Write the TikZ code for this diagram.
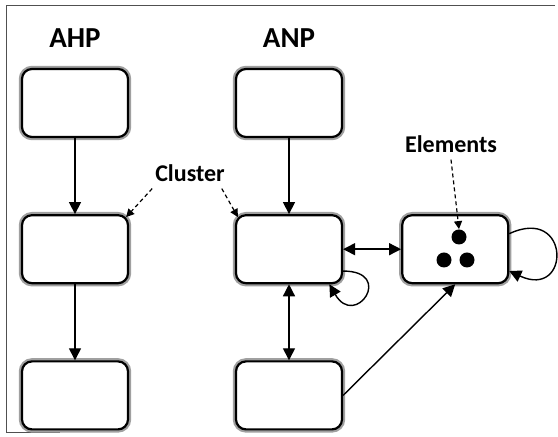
\documentclass[tikz,border=0pt]{standalone}
\usepackage{fontspec}
\setmainfont{Carlito}
\usetikzlibrary{arrows.meta,positioning}
\definecolor{BoxHalo}{HTML}{A0A0A0}
\definecolor{FrameLine}{HTML}{505050}
\tikzset{>={Triangle[length=6pt,width=6pt]},
 cluster/.style={draw=black,fill=white,line width=1.1pt,rounded corners=5pt,
 minimum width=53pt,minimum height=34pt,preaction={draw=BoxHalo,line width=3.2pt}},
 title/.style={font=\bfseries\fontsize{14.5}{16}\selectfont},
 tag/.style={font=\bfseries\fontsize{12}{14}\selectfont},
 elem/.style={circle,fill=black,inner sep=0pt,minimum size=7.5pt},
 link/.style={->,line width=0.7pt},
 pointer/.style={dash pattern=on 2pt off 1.5pt,line width=0.6pt,
 -{Triangle[length=4pt,width=4pt]}}}

\begin{document}
\begin{tikzpicture}[x=0.5pt,y=-0.5pt,node distance=38pt]
\useasboundingbox (0,0) rectangle (558,437);
\draw[FrameLine,line width=0.5pt] (555,6) -- (6,6) -- (6,433) -- (60,433);
% column titles
\node[title] (ahp) at (75,38) {AHP};
\node[title] (anp) at (289,38) {ANP};
% AHP: a plain chain of clusters
\node[cluster] (a1) at (75,103) {};
\node[cluster,below=of a1] (a2) {};
\node[cluster,below=of a2] (a3) {};
% ANP: clusters with feedback
\node[cluster] (n1) at (289,103) {};
\node[cluster,below=of n1] (n2) {};
\node[cluster,below=of n2] (n3) {};
\node[cluster,right=29pt of n2] (ne) {};
\node[elem] (e1) at (459,237) {};
\node[elem] (e2) at (444,260) {};
\node[elem] (e3) at (467,260) {};
\node[tag] (cl) at (190,173) {Cluster};
\node[tag] (el) at (451,144) {Elements};
\draw[link] (a1) -- (a2);
\draw[link] (a2) -- (a3);
\draw[link] (n1) -- (n2);
\draw[link,<->] (n2) -- (ne);
\draw[link,<->] (n2) -- (n3);
\draw[link] (n3.east) -- (ne.south);
\draw[link] (n2.-22) to[out=0,in=-60,distance=26pt] (n2.-41);
\draw[link] (ne.16) to[out=25,in=-25,distance=34pt] (ne.-22);
\draw[pointer] ([xshift=2pt]cl.south west) -- ([shift={(-1.5pt,-1.5pt)}]a2.north east);
\draw[pointer] ([xshift=-5pt]cl.south east) -- ([shift={(1.5pt,-1.5pt)}]n2.north west);
\draw[pointer] (el.south) -- (e1.north);
\end{tikzpicture}
\end{document}
